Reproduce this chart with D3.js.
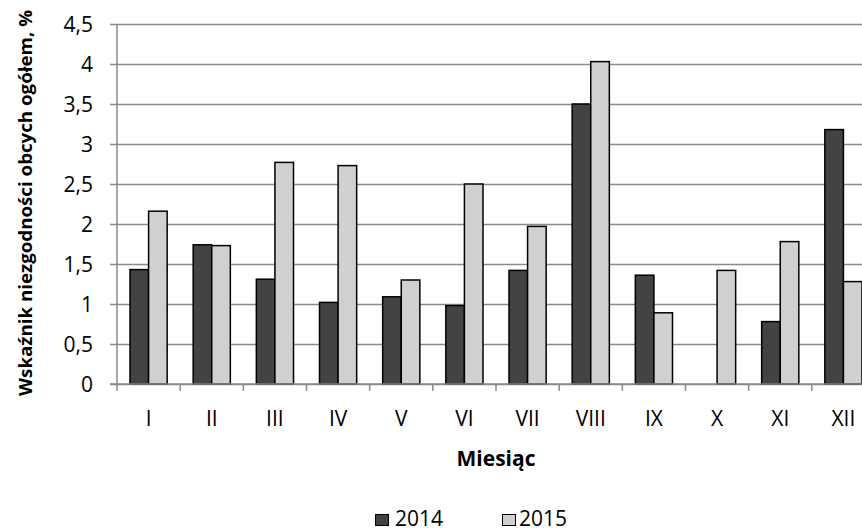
<!DOCTYPE html>
<html>
<head>
<meta charset="utf-8">
<script src="https://cdn.jsdelivr.net/npm/d3@7"></script>
<style>
  html, body { margin: 0; padding: 0; background: #fff; }
  svg { display: block; }
  text { font-family: "Open Sans", "DejaVu Sans", sans-serif; fill: #000; }
</style>
</head>
<body>
<div id="chart"></div>
<script>
// Monthly non-conformity rate of external supplies, %
const months = ["I", "II", "III", "IV", "V", "VI", "VII", "VIII", "IX", "X", "XI", "XII"];
const seriesNames = ["2014", "2015"];
const values2014 = [1.43, 1.74, 1.31, 1.02, 1.09, 0.98, 1.42, 3.50, 1.36, 0, 0.78, 3.18];
const values2015 = [2.16, 1.73, 2.77, 2.73, 1.30, 2.50, 1.97, 4.03, 0.89, 1.42, 1.78, 1.28];
const yTicks = [0, 0.5, 1, 1.5, 2, 2.5, 3, 3.5, 4, 4.5];
const seriesColors = ["#434343", "#d0d0d0"];

const W = 862, H = 532;
const margin = { left: 117, top: 24, right: 875, bottom: 384 };
const tickFont = "21px";

const svg = d3.select("#chart").append("svg")
  .attr("width", W).attr("height", H);

const x = d3.scaleBand().domain(months).range([margin.left, margin.right]).paddingInner(0).paddingOuter(0);
const y = d3.scaleLinear().domain([0, 4.5]).range([margin.bottom, margin.top]);

// Horizontal gridlines with outside tick stubs
const yAxis = d3.axisLeft(y).tickValues(yTicks).tickFormat(d => d3.format(",")(d).replace(".", ","))
  .tickSizeInner(-(margin.right - margin.left)).tickSizeOuter(0).tickPadding(0);
const gy = svg.append("g").attr("transform", `translate(${margin.left},0)`).call(yAxis);
gy.select(".domain").remove();
gy.selectAll(".tick line").attr("x1", -7).attr("stroke", "#8a8a8a").attr("stroke-width", 1.5);
gy.selectAll(".tick text").attr("x", -24).attr("dy", "0.36em")
  .style("font-size", tickFont).style("font-family", '"Open Sans", sans-serif');

// Vertical axis line
svg.append("line")
  .attr("x1", margin.left).attr("x2", margin.left)
  .attr("y1", y(4.5)).attr("y2", y(0) + 7)
  .attr("stroke", "#8a8a8a").attr("stroke-width", 1.5);

// Category axis
const xAxis = d3.axisBottom(x).tickSize(0).tickPadding(0);
const gx = svg.append("g").attr("transform", `translate(0,${margin.bottom})`).call(xAxis);
gx.select(".domain").remove();
gx.selectAll(".tick text").attr("y", 34).attr("dy", "0.36em")
  .style("font-size", tickFont).style("font-family", '"Open Sans", sans-serif');

// Tick marks at band boundaries
const boundaries = months.map(m => x(m) + x.bandwidth());
svg.append("g").selectAll("line").data(boundaries).join("line")
  .attr("x1", d => d).attr("x2", d => d)
  .attr("y1", y(0)).attr("y2", y(0) + 7)
  .attr("stroke", "#8a8a8a").attr("stroke-width", 1.5);

// Bars
const barW = x.bandwidth() / 3.4;
const sub = d3.scaleBand().domain(seriesNames).range([0, barW * 2]);
const rows = months.map((m, i) => ({ m, vals: [values2014[i], values2015[i]] }));
const groups = svg.append("g").selectAll("g").data(rows).join("g")
  .attr("transform", d => `translate(${x(d.m) + (x.bandwidth() - barW * 2) / 2},0)`);
groups.selectAll("rect")
  .data(d => d.vals.map((v, k) => ({ v, k })).filter(e => e.v > 0))
  .join("rect")
  .attr("x", d => sub(seriesNames[d.k]))
  .attr("width", barW)
  .attr("y", d => y(d.v))
  .attr("height", d => y(0) - y(d.v))
  .attr("fill", d => seriesColors[d.k])
  .attr("stroke", "#000").attr("stroke-width", 1.5);

// Baseline
svg.append("line")
  .attr("x1", margin.left - 7).attr("x2", margin.right)
  .attr("y1", y(0)).attr("y2", y(0))
  .attr("stroke", "#8a8a8a").attr("stroke-width", 1.5);

// Axis titles
svg.append("text")
  .attr("transform", `translate(32,203) rotate(-90)`)
  .attr("text-anchor", "middle")
  .attr("textLength", 386).attr("lengthAdjust", "spacingAndGlyphs")
  .style("font-size", "18.5px").style("font-weight", "bold")
  .text("Wskaźnik niezgodności obcych ogółem, %");

svg.append("text")
  .attr("x", 496).attr("y", 466)
  .attr("text-anchor", "middle")
  .style("font-size", "21px").style("font-weight", "bold")
  .text("Miesiąc");

// Legend
const legendX = [375, 502];
const lg = svg.append("g").selectAll("g").data(seriesNames).join("g")
  .attr("transform", (d, i) => `translate(${legendX[i]},0)`);
lg.append("rect")
  .attr("x", 0.5).attr("y", 514.5).attr("width", 13).attr("height", 11)
  .attr("fill", (d, i) => seriesColors[i]).attr("stroke", "#000").attr("stroke-width", 1);
lg.append("text")
  .attr("x", (d, i) => i === 0 ? 20 : 17).attr("y", 526)
  .style("font-size", "21px")
  .text(d => d);
</script>
</body>
</html>
